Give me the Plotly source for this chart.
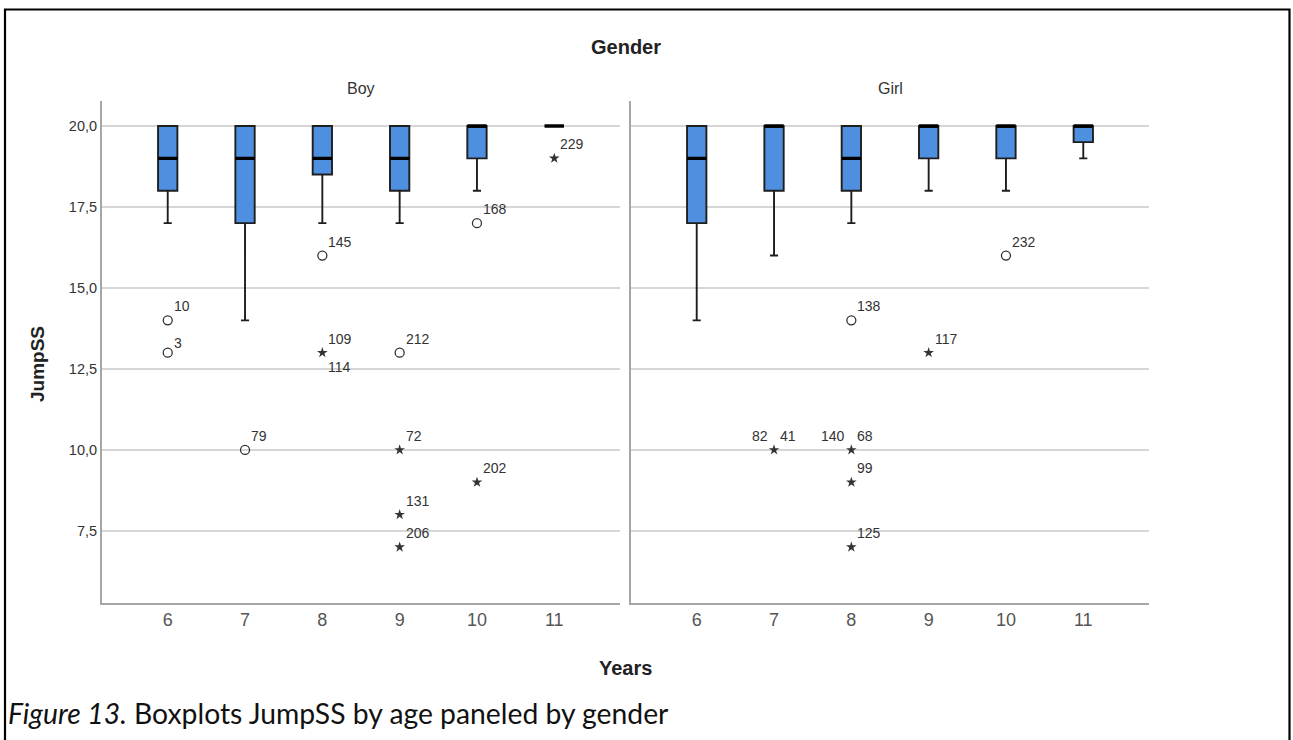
import plotly.graph_objects as go

# ---- data ---------------------------------------------------------------
AGES = [6, 7, 8, 9, 10, 11]

BOY_Q1 = [18, 17, 18.5, 18, 19, 20]
BOY_MEDIAN = [19, 19, 19, 19, 20, 20]
BOY_Q3 = [20, 20, 20, 20, 20, 20]
BOY_LOW = [17, 14, 17, 17, 18, 20]
BOY_HIGH = [20, 20, 20, 20, 20, 20]

GIRL_Q1 = [17, 18, 18, 19, 19, 19.5]
GIRL_MEDIAN = [19, 20, 19, 20, 20, 20]
GIRL_Q3 = [20, 20, 20, 20, 20, 20]
GIRL_LOW = [14, 16, 17, 18, 18, 19]
GIRL_HIGH = [20, 20, 20, 20, 20, 20]

# outliers: age, value, kind ("o" = outlier, "*" = extreme), case numbers
BOY_OUT_AGE = [6, 6, 7, 8, 8, 9, 9, 9, 9, 10, 10, 11]
BOY_OUT_VAL = [14, 13, 10, 16, 13, 13, 10, 8, 7, 17, 9, 19]
BOY_OUT_KIND = ["o", "o", "o", "o", "*", "o", "*", "*", "*", "o", "*", "*"]
BOY_OUT_IDS = [["10"], ["3"], ["79"], ["145"], ["109", "114"], ["212"], ["72"],
               ["131"], ["206"], ["168"], ["202"], ["229"]]

GIRL_OUT_AGE = [7, 8, 8, 8, 8, 9, 10]
GIRL_OUT_VAL = [10, 14, 10, 9, 7, 13, 16]
GIRL_OUT_KIND = ["*", "o", "*", "*", "*", "*", "o"]
GIRL_OUT_IDS = [["82", "41"], ["138"], ["140", "68"], ["99"], ["125"], ["117"], ["232"]]

Y_TICKS = [7.5, 10.0, 12.5, 15.0, 17.5, 20.0]
Y_TICK_TEXT = ["7,5", "10,0", "12,5", "15,0", "17,5", "20,0"]

# ---- styling --------------------------------------------------------------
W, H = 1293, 740
BOX_FILL = "#4f8fdf"
BOX_LINE = "#1e1e1e"
GRID = "#d6d6d6"
AXIS = "#a6a6a6"
BOX_W = 0.25
FONT = "Liberation Sans"


def px_x(p):
    return p / W


def px_y(p):
    return 1 - p / H


Y_DOM = [px_y(602.5), px_y(101)]
X_DOM_BOY = [px_x(102), px_x(620)]
X_DOM_GIRL = [px_x(631), px_x(1149)]
X_RANGE = [5.15, 11.85]
Y_RANGE = [5.29, 20.77]

fig = go.Figure()

panels = [
    ("x", "y", BOY_Q1, BOY_MEDIAN, BOY_Q3, BOY_LOW, BOY_HIGH,
     BOY_OUT_AGE, BOY_OUT_VAL, BOY_OUT_KIND, BOY_OUT_IDS),
    ("x2", "y2", GIRL_Q1, GIRL_MEDIAN, GIRL_Q3, GIRL_LOW, GIRL_HIGH,
     GIRL_OUT_AGE, GIRL_OUT_VAL, GIRL_OUT_KIND, GIRL_OUT_IDS),
]

# how a few crowded case labels are placed
LABEL_PLACEMENT = {"114": "below", "82": "left", "140": "left", "3": "low"}

annotations = []

for xa, ya, q1, med, q3, lo, hi, oa, ov, ok, oid in panels:
    fig.add_trace(go.Box(
        x=AGES, q1=q1, median=med, q3=q3, lowerfence=lo, upperfence=hi,
        width=BOX_W, whiskerwidth=0.42, boxpoints=False,
        fillcolor=BOX_FILL, line=dict(color=BOX_LINE, width=1.9),
        xaxis=xa, yaxis=ya, hoverinfo="skip", showlegend=False,
    ))
    # heavy median bars
    mx, my = [], []
    for a, m in zip(AGES, med):
        mx += [a - BOX_W / 2, a + BOX_W / 2, None]
        my += [m, m, None]
    fig.add_trace(go.Scatter(
        x=mx, y=my, mode="lines", line=dict(color="black", width=3.4),
        xaxis=xa, yaxis=ya, hoverinfo="skip", showlegend=False,
    ))
    # outliers
    for kind, sym, size, lw in (("o", "circle-open", 9, 1.3), ("*", "star", 8, 0)):
        xs = [a for a, k in zip(oa, ok) if k == kind]
        ys = [v for v, k in zip(ov, ok) if k == kind]
        fig.add_trace(go.Scatter(
            x=xs, y=ys, mode="markers",
            marker=dict(symbol=sym, size=size, color="#333333",
                        line=dict(color="#333333", width=lw)),
            xaxis=xa, yaxis=ya, hoverinfo="skip", showlegend=False,
        ))
    # case number labels
    for a, v, ids in zip(oa, ov, oid):
        for cid in ids:
            place = LABEL_PLACEMENT.get(cid, "above")
            xanchor, xshift, yshift = "left", 4, 14
            if place == "below":
                xshift, yshift = 4, -14
            elif place == "left":
                xanchor, xshift = "right", -4
            elif place == "low":
                yshift = 10
            annotations.append(dict(
                x=a, y=v, xref=xa, yref=ya, text=cid, showarrow=False,
                xanchor=xanchor, yanchor="middle", xshift=xshift, yshift=yshift,
                font=dict(family=FONT, size=14, color="#333333"),
            ))

axis_common = dict(range=X_RANGE, tickmode="array", tickvals=AGES,
                   ticktext=[str(a) for a in AGES], showgrid=False,
                   showline=True, linecolor=AXIS, linewidth=2, ticks="",
                   zeroline=False, fixedrange=True,
                   tickfont=dict(family=FONT, size=18, color="#555555"))
yaxis_common = dict(range=Y_RANGE, domain=Y_DOM, tickmode="array",
                    tickvals=Y_TICKS, ticktext=Y_TICK_TEXT, showgrid=True,
                    gridcolor=GRID, gridwidth=1.6, showline=True,
                    linecolor=AXIS, linewidth=2, ticks="", zeroline=False,
                    fixedrange=True,
                    tickfont=dict(family=FONT, size=14.5, color="#333333"))

fig.update_layout(
    width=W, height=H, margin=dict(l=0, r=0, t=0, b=0),
    paper_bgcolor="white", plot_bgcolor="white",
    font=dict(family=FONT),
    xaxis=dict(domain=X_DOM_BOY, anchor="y", **axis_common),
    xaxis2=dict(domain=X_DOM_GIRL, anchor="y2", **axis_common),
    yaxis=dict(anchor="x", **yaxis_common),
    yaxis2=dict(anchor="x2", showticklabels=False, **yaxis_common),
    showlegend=False,
)

# titles and caption
plot_center = (X_DOM_BOY[0] + X_DOM_GIRL[1]) / 2
annotations += [
    dict(x=plot_center, y=px_y(47), text="<b>Gender</b>",
         font=dict(family=FONT, size=20, color="#222222")),
    dict(x=(X_DOM_BOY[0] + X_DOM_BOY[1]) / 2, y=px_y(88), text="Boy",
         font=dict(family=FONT, size=16, color="#333333")),
    dict(x=(X_DOM_GIRL[0] + X_DOM_GIRL[1]) / 2, y=px_y(88), text="Girl",
         font=dict(family=FONT, size=16, color="#333333")),
    dict(x=px_x(37), y=px_y(364), text="<b>JumpSS</b>", textangle=-90,
         font=dict(family=FONT, size=19, color="#222222")),
    dict(x=plot_center, y=px_y(668), text="<b>Years</b>",
         font=dict(family=FONT, size=20, color="#222222")),
    dict(x=px_x(6), y=px_y(713), xanchor="left",
         text="<i>Figure 13.</i> Boxplots JumpSS by age paneled by gender",
         font=dict(family="Lato", size=28.3, color="#111111")),
]
for a in annotations:
    a.setdefault("xref", "paper")
    a.setdefault("yref", "paper")
    a.setdefault("showarrow", False)
    a.setdefault("yanchor", "middle")
    a.setdefault("xanchor", "center")
fig.update_layout(annotations=annotations)

# frame around the figure
fig.add_shape(type="rect", xref="paper", yref="paper",
              x0=px_x(5), x1=px_x(1289.5), y0=px_y(760), y1=px_y(9.5),
              line=dict(color="black", width=2.2), fillcolor="rgba(0,0,0,0)",
              layer="above")

fig.write_html("out.html", config={"displayModeBar": False})
